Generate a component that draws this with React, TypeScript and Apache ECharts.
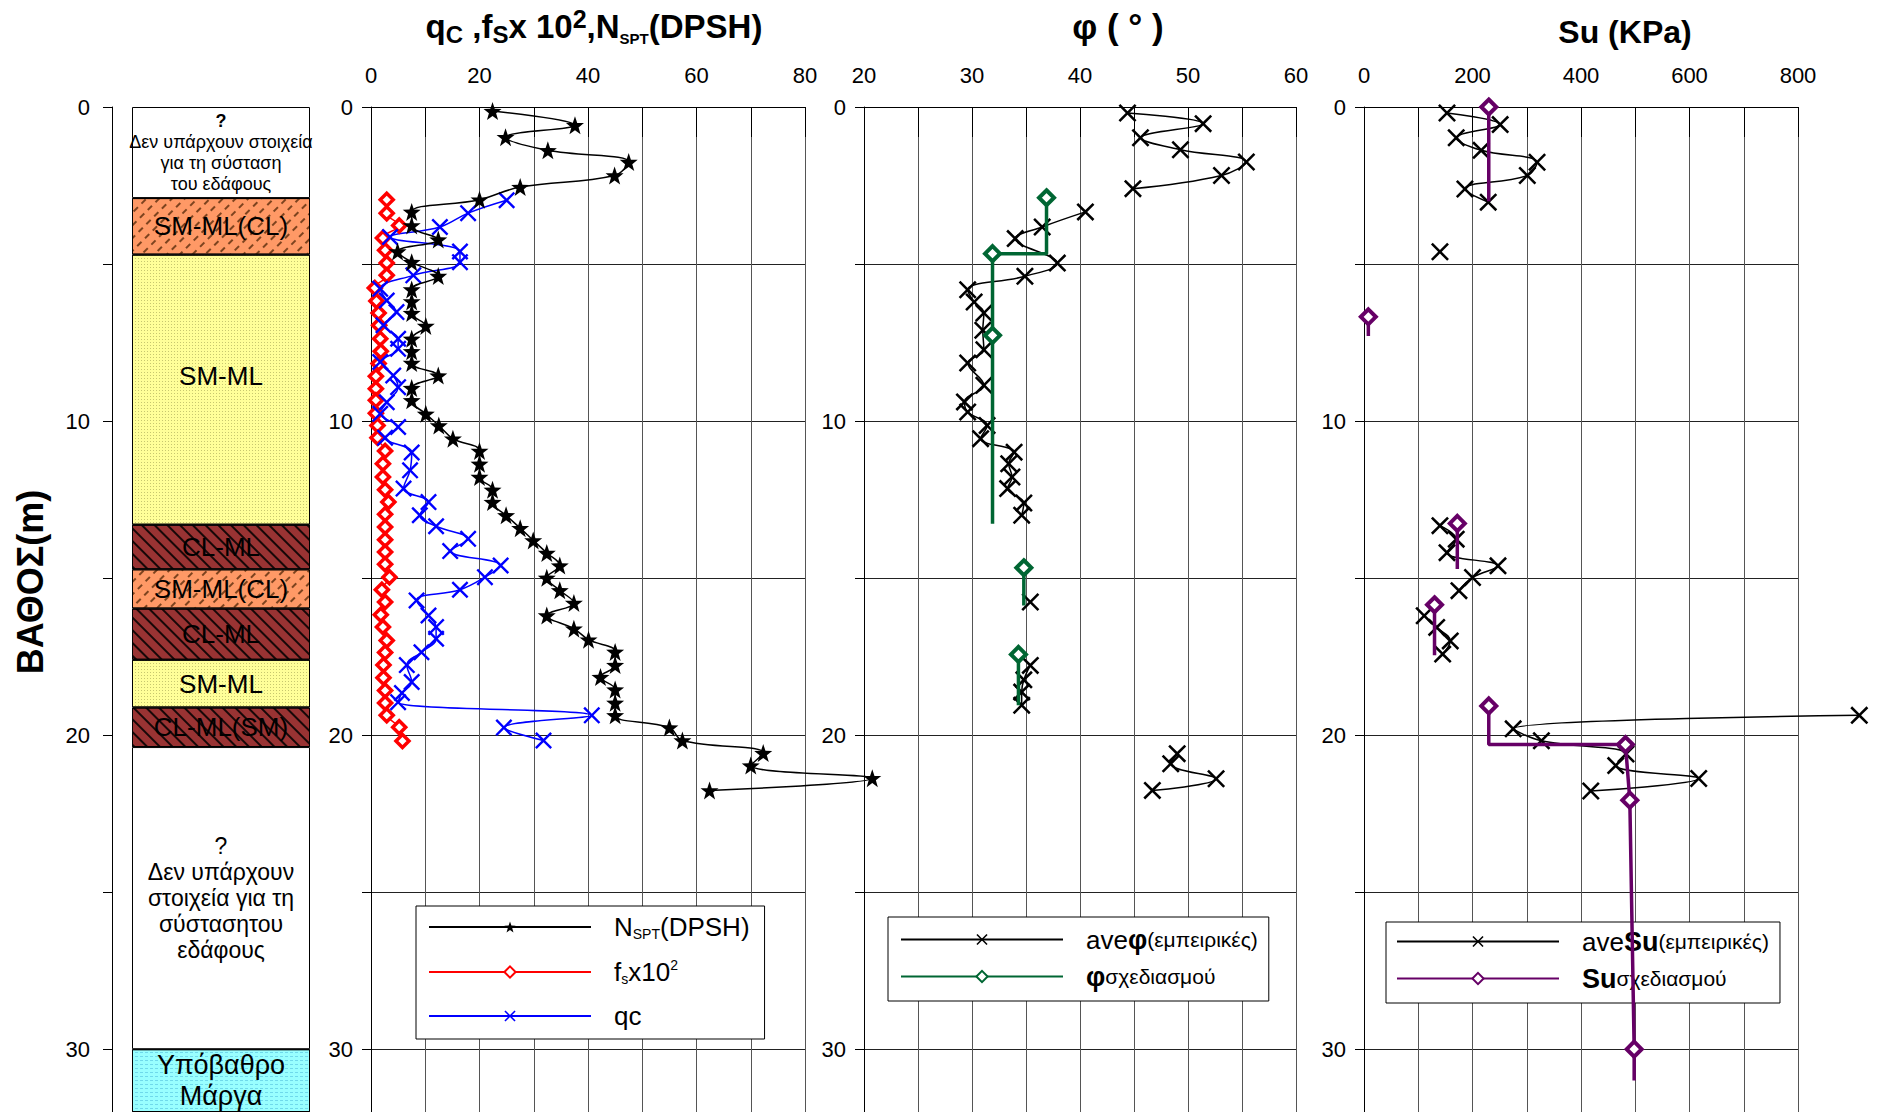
import React, { useEffect, useRef } from "react";
import * as echarts from "echarts";

// ------------------------------- data -------------------------------
const soilLabels = [
  "?\nΔεν υπάρχουν στοιχεία\nγια τη σύσταση\nτου εδάφους",
  "SM-ML(CL)",
  "SM-ML",
  "CL-ML",
  "SM-ML(CL)",
  "CL-ML",
  "SM-ML",
  "CL-ML(SM)",
  "?\nΔεν υπάρχουν\nστοιχεία για τη\nσύστασητου\nεδάφους",
  "Υπόβαθρο\nΜάργα",
];
const soilTops = [0, 2.9, 4.7, 13.3, 14.72, 15.97, 17.6, 19.12, 20.38, 30.0];
const soilBottoms = [2.9, 4.7, 13.3, 14.72, 15.97, 17.6, 19.12, 20.38, 30.0, 32.0];
const soilKinds = ["unknownTop", "smmlcl", "smml", "clml", "smmlcl", "clml", "smml", "clml", "unknown", "marl"];

const nsptDepth = [0.13, 0.58, 0.96, 1.38, 1.75, 2.18, 2.55, 2.95, 3.34, 3.77, 4.22, 4.6, 4.94, 5.38, 5.81, 6.19, 6.56, 6.97, 7.38, 7.78, 8.15, 8.55, 8.95, 9.34, 9.77, 10.14, 10.56, 10.95, 11.36, 11.78, 12.19, 12.58, 13.0, 13.41, 13.8, 14.2, 14.6, 14.99, 15.39, 15.79, 16.19, 16.61, 16.96, 17.35, 17.77, 18.15, 18.55, 18.97, 19.37, 19.76, 20.17, 20.57, 20.97, 21.37, 21.76];
const nsptValue = [22.4, 37.6, 24.8, 32.6, 47.5, 44.9, 27.5, 20.0, 7.5, 7.5, 12.4, 4.9, 7.5, 12.4, 7.5, 7.5, 7.5, 10.1, 7.5, 7.5, 7.5, 12.4, 7.5, 7.5, 10.1, 12.5, 15.1, 20.0, 20.0, 20.0, 22.4, 22.4, 24.9, 27.5, 29.9, 32.4, 34.8, 32.4, 34.8, 37.4, 32.4, 37.4, 40.1, 45.0, 45.0, 42.3, 45.0, 45.0, 45.0, 55.0, 57.4, 72.3, 70.0, 92.4, 62.4];

const fsDepth = [2.95, 3.38, 3.77, 4.17, 4.56, 4.97, 5.36, 5.76, 6.18, 6.56, 6.95, 7.38, 7.78, 8.17, 8.57, 8.97, 9.34, 9.75, 10.14, 10.53, 10.95, 11.36, 11.78, 12.19, 12.58, 12.97, 13.37, 13.78, 14.17, 14.56, 14.97, 15.37, 15.76, 16.17, 16.56, 16.99, 17.37, 17.77, 18.17, 18.58, 18.98, 19.37, 19.75, 20.19];
const fsValue = [2.9, 2.9, 5.2, 2.2, 2.6, 2.9, 2.9, 0.7, 1.0, 1.4, 1.5, 1.7, 1.8, 1.4, 0.9, 0.9, 0.9, 0.9, 1.2, 1.2, 2.6, 2.2, 2.2, 2.6, 3.2, 2.6, 2.6, 2.6, 2.6, 2.6, 3.4, 2.0, 2.6, 1.8, 2.2, 2.9, 2.6, 2.3, 2.3, 2.6, 2.6, 2.9, 5.2, 5.8];

const qcDepth = [2.97, 3.38, 3.82, 4.14, 4.6, 4.94, 5.36, 5.79, 6.16, 6.53, 6.95, 7.38, 7.7, 8.12, 8.55, 8.92, 9.4, 9.77, 10.19, 10.53, 11.0, 11.57, 12.15, 12.58, 13.0, 13.35, 13.75, 14.14, 14.6, 14.97, 15.37, 15.71, 16.19, 16.56, 16.93, 17.36, 17.77, 18.31, 18.66, 18.95, 19.37, 19.76, 20.17];
const qcValue = [25.0, 17.9, 12.7, 3.5, 16.4, 16.4, 7.8, 1.7, 2.9, 4.7, 2.3, 5.0, 5.0, 1.7, 4.1, 5.0, 2.9, 1.7, 5.0, 2.6, 7.5, 7.2, 6.0, 10.6, 9.0, 12.0, 17.9, 14.6, 23.9, 21.0, 16.4, 8.4, 10.6, 12.0, 12.0, 9.3, 6.6, 7.5, 5.7, 5.0, 40.7, 24.5, 31.8];

const phiAveDepth = [0.19, 0.53, 0.98, 1.36, 1.75, 2.18, 2.6, null, 3.34, 3.82, 4.19, 4.97, 5.39, 5.82, 6.21, 6.56, 7.11, 7.73, 8.15, 8.86, 9.39, 9.71, 10.14, 10.56, 10.99, 11.36, 11.78, 12.15, 12.61, 13.0, null, 15.76, null, 17.78, 18.24, 18.63, 19.05, null, 20.59, 20.91, 21.39, 21.76];
const phiAveValue = [44.4, 51.4, 45.6, 49.3, 55.4, 53.1, 44.9, null, 40.5, 36.5, 34.0, 37.9, 34.9, 29.6, 30.2, 31.1, 31.0, 31.1, 29.6, 31.1, 29.3, 29.6, 31.4, 30.8, 33.9, 33.4, 33.7, 33.3, 34.8, 34.6, null, 35.4, null, 35.4, 34.8, 34.6, 34.6, null, 49.0, 48.4, 52.6, 46.7];

const phiDesignDepth = [2.89, 4.67, 4.67, 7.27, 13.27, null, 14.67, 15.87, null, 17.43, 19.05];
const phiDesignValue = [36.9, 36.9, 31.9, 31.9, 31.9, null, 34.8, 34.8, null, 34.3, 34.3];
const phiDesignMarker = [1, 0, 1, 1, 0, 0, 1, 0, 0, 1, 0];

const suAveDepth = [0.19, 0.56, 0.98, 1.38, 1.76, 2.18, 2.61, 3.03, null, 4.61, null, 13.33, 13.76, 14.19, 14.61, 14.98, 15.4, null, 16.2, 16.57, 17.0, 17.42, null, 19.37, 19.8, 20.18, 20.6, 20.97, 21.38, 21.78];
const suAveValue = [153, 251, 170, 216, 319, 301, 186, 229, null, 140, null, 140, 170, 153, 247, 200, 175, null, 111, 134, 159, 145, null, 913, 275, 327, 483, 464, 617, 418];

const suDesignDepth = [0, 3.0, null, 6.68, 7.29, null, 13.26, 14.71, null, 15.85, 17.46, null, 19.07, 20.3, 20.3, 22.07, 30.0, 31.0];
const suDesignValue = [230, 230, null, 8, 8, null, 172, 172, null, 130, 130, null, 230, 230, 482, 490, 498, 498];
const suDesignMarker = [1, 0, 0, 1, 0, 0, 1, 0, 0, 1, 0, 0, 1, 0, 1, 1, 1, 0];

// ------------------------------- style -------------------------------
const NARROW = "'Liberation Sans Narrow', 'Arial Narrow', 'Liberation Sans', Arial, sans-serif";
const REG = "'Liberation Sans', Arial, sans-serif";
const STAR = "path://M10,0L12.35,6.76L19.51,6.91L13.8,11.24L15.88,18.09L10,14L4.12,18.09L6.2,11.24L0.49,6.91L7.65,6.76Z";
const CROSS = "path://M0,1L1,0L5,4L9,0L10,1L6,5L10,9L9,10L5,6L1,10L0,9L4,5Z";

const soilStyle: Record<string, any> = {
  unknownTop: { color: "#ffffff" },
  unknown: { color: "#ffffff" },
  smmlcl: {
    color: "#ff9966",
    decal: { symbol: "rect", symbolSize: 1, color: "rgba(70,30,0,0.7)", dashArrayX: [6, 5], dashArrayY: [1.2, 7], rotation: -Math.PI / 4 },
  },
  smml: {
    color: "#ffff99",
    decal: { symbol: "rect", symbolSize: 1, color: "rgba(130,130,60,0.45)", dashArrayX: [1, 2], dashArrayY: [1, 2], rotation: 0 },
  },
  clml: {
    color: "#993333",
    decal: { symbol: "rect", symbolSize: 1, color: "rgba(0,0,0,0.85)", dashArrayX: [1, 0], dashArrayY: [1.3, 7], rotation: Math.PI / 4 },
  },
  marl: {
    color: "#99ffff",
    decal: { symbol: "rect", symbolSize: 1, color: "rgba(60,170,210,0.45)", dashArrayX: [3, 2], dashArrayY: [1, 3], rotation: 0 },
  },
};

function toPairs(values: (number | null)[], depths: (number | null)[], markers?: number[]) {
  return values.map((v, i) => {
    const d = depths[i];
    if (v === null || d === null) return ["-", "-"];
    if (markers && !markers[i]) return { value: [v, d], symbol: "none" };
    return [v, d];
  });
}

function soilLabel(text: string, kind: string) {
  const lines = text.split("\n");
  if (kind === "unknownTop" || kind === "unknown") {
    const tok = kind === "unknownTop" ? "t" : "u";
    return lines.map((l, i) => (i === 0 ? `{${kind === "unknownTop" ? "q" : "q2"}|${l}}` : `{${tok}|${l}}`)).join("\n");
  }
  if (kind === "marl") return lines.map((l) => `{m|${l}}`).join("\n");
  return `{c|${text}}`;
}

const GRID_TOP = 107;
const GRID_H = 1005;

function xTop(gridIndex: number, min: number, max: number, interval: number, labelStep: number) {
  return {
    type: "value",
    gridIndex,
    position: "top",
    min,
    max,
    interval,
    axisLine: { show: true, lineStyle: { color: "#000", width: 1 } },
    axisTick: { show: true, inside: true, length: 30, lineStyle: { color: "#000", width: 1 } },
    axisLabel: {
      margin: 21,
      fontSize: 22,
      fontFamily: NARROW,
      color: "#000",
      formatter: (v: number) => (Math.round(v) % labelStep === 0 ? String(v) : ""),
    },
    splitLine: { show: true, lineStyle: { color: "#555", width: 1 } },
  };
}

function yDepth(gridIndex: number, extra: any = {}) {
  return {
    type: "value",
    gridIndex,
    inverse: true,
    min: 0,
    max: 32,
    interval: 5,
    axisLine: { show: true, lineStyle: { color: "#000", width: 1 } },
    axisTick: { show: true, inside: false, length: 9, lineStyle: { color: "#000", width: 1 } },
    axisLabel: {
      margin: 18,
      fontSize: 22,
      fontFamily: NARROW,
      color: "#000",
      showMaxLabel: false,
      formatter: (v: number) => (Math.round(v) % 10 === 0 ? String(v) : ""),
    },
    splitLine: { show: true, lineStyle: { color: "#222", width: 1 } },
    ...extra,
  };
}

// hidden, wider coordinate systems (same px-per-unit scale) so the out-of-range points stay visible
function hiddenX(gridIndex: number, max: number) {
  return { type: "value", gridIndex, min: 0, max, show: false, splitLine: { show: false } };
}
function hiddenY(gridIndex: number) {
  return { type: "value", gridIndex, inverse: true, min: 0, max: 32, show: false, splitLine: { show: false } };
}

const legendText: Record<string, string> = {
  NSPT: "{g| }{n|N}{sub|SPT}{n|(DPSH)}",
  fs: "{g| }{n|f}{sub|s}{n|x10}{sup|2}",
  qc: "{g| }{n|qc}",
  avePhi: "{g| }{n|ave}{b|φ}{s|(εμπειρικές)}",
  phiDesign: "{g| }{b|φ}{s|σχεδιασμού}",
  aveSu: "{g| }{n|ave}{b|Su}{s|(εμπειρικές)}",
  suDesign: "{g| }{b|Su}{s|σχεδιασμού}",
};

const legendRich = {
  g: { width: 18, fontSize: 22, lineHeight: 26 },
  n: { fontSize: 26, fontFamily: NARROW, lineHeight: 28, color: "#000" },
  sub: { fontSize: 14, fontFamily: NARROW, lineHeight: 17, verticalAlign: "bottom", color: "#000" },
  sup: { fontSize: 14, fontFamily: NARROW, lineHeight: 22, verticalAlign: "top", color: "#000" },
  b: { fontSize: 27, fontWeight: "bold", fontFamily: NARROW, lineHeight: 28, color: "#000" },
  s: { fontSize: 21, fontFamily: NARROW, lineHeight: 28, color: "#000" },
};

function legendBox(names: string[], left: number, top: number, itemGap: number, padding: number[]) {
  return {
    data: names,
    orient: "vertical",
    left,
    top,
    itemWidth: 162,
    itemHeight: 14,
    itemGap,
    padding,
    backgroundColor: "#fff",
    borderColor: "#000",
    borderWidth: 1,
    selectedMode: false,
    formatter: (name: string) => legendText[name] || name,
    textStyle: { color: "#000", fontFamily: NARROW, fontSize: 22, rich: legendRich },
  };
}

function buildOption() {
  const soilSeries = soilLabels.map((lab, i) => {
    const kind = soilKinds[i];
    const st = soilStyle[kind];
    const thick = soilBottoms[i] - soilTops[i];
    return {
      type: "bar",
      name: "soil" + i,
      xAxisIndex: 0,
      yAxisIndex: 0,
      stack: "soil",
      barWidth: "100%",
      silent: true,
      data: [thick],
      itemStyle: { color: st.color, borderColor: "#000", borderWidth: 1, decal: st.decal },
      label: {
        show: true,
        position: "inside",
        offset: thick > 6 && kind === "smml" ? [0, -14] : [0, 0],
        formatter: soilLabel(lab, kind),
        rich: {
          q: { fontSize: 18, fontWeight: "bold", fontFamily: REG, color: "#000", lineHeight: 21 },
          t: { fontSize: 18, fontFamily: REG, color: "#000", lineHeight: 21 },
          q2: { fontSize: 23, fontFamily: REG, color: "#000", lineHeight: 26 },
          u: { fontSize: 23, fontFamily: REG, color: "#000", lineHeight: 26 },
          m: { fontSize: 27, fontFamily: REG, color: "#000", lineHeight: 31 },
          c: { fontSize: 26, fontFamily: REG, color: "#000", lineHeight: 30 },
        },
      },
    };
  });

  const lineBase = { type: "line", animation: false, connectNulls: false };

  return {
    animation: false,
    backgroundColor: "#fff",
    grid: [
      { left: 132, top: GRID_TOP, width: 178, height: GRID_H },
      { left: 371, top: GRID_TOP, width: 434, height: GRID_H },
      { left: 864, top: GRID_TOP, width: 432, height: GRID_H },
      { left: 1364, top: GRID_TOP, width: 434, height: GRID_H },
      { left: 371, top: GRID_TOP, width: 542.5, height: GRID_H },
      { left: 1364, top: GRID_TOP, width: 515.375, height: GRID_H },
    ],
    xAxis: [
      { type: "category", gridIndex: 0, data: ["soil"], show: false },
      xTop(1, 0, 80, 10, 20),
      xTop(2, 20, 60, 5, 10),
      xTop(3, 0, 800, 100, 200),
      hiddenX(4, 100),
      hiddenX(5, 950),
    ],
    yAxis: [
      yDepth(0, { offset: 20, splitLine: { show: false }, axisLabel: { margin: 22, fontSize: 22, fontFamily: NARROW, color: "#000", showMaxLabel: false, formatter: (v: number) => (Math.round(v) % 10 === 0 ? String(v) : "") } }),
      yDepth(1),
      yDepth(2),
      yDepth(3),
      hiddenY(4),
      hiddenY(5),
    ],
    legend: [
      legendBox(["NSPT", "fs", "qc"], 416, 906, 17, [8, 15, 10, 12]),
      legendBox(["avePhi", "phiDesign"], 888, 917, 10, [9, 11, 11, 12]),
      legendBox(["aveSu", "suDesign"], 1386, 922, 10, [6, 11, 11, 10]),
    ],
    graphic: [
      {
        type: "text",
        x: 594,
        y: 26,
        style: {
          text: "{m|q}{s|C}{m| ,f}{s|S}{m|x 10}{p|2}{m|,N}{ss|SPT}{m|(DPSH)}",
          align: "center",
          verticalAlign: "middle",
          fill: "#000",
          rich: {
            m: { fontSize: 33, fontWeight: "bold", fontFamily: NARROW, lineHeight: 40, fill: "#000" },
            s: { fontSize: 24, fontWeight: "bold", fontFamily: NARROW, lineHeight: 24, verticalAlign: "bottom", fill: "#000" },
            p: { fontSize: 25, fontWeight: "bold", fontFamily: NARROW, lineHeight: 24, verticalAlign: "top", fill: "#000" },
            ss: { fontSize: 15, fontWeight: "bold", fontFamily: NARROW, lineHeight: 16, verticalAlign: "bottom", fill: "#000" },
          },
        },
      },
      {
        type: "text",
        x: 1118,
        y: 26,
        style: { text: "φ ( ° )", fontSize: 35, fontWeight: "bold", fontFamily: NARROW, fill: "#000", align: "center", verticalAlign: "middle" },
      },
      {
        type: "text",
        x: 1625,
        y: 32,
        style: { text: "Su (KPa)", fontSize: 32, fontWeight: "bold", fontFamily: NARROW, fill: "#000", align: "center", verticalAlign: "middle" },
      },
      {
        type: "text",
        x: 30,
        y: 582,
        rotation: Math.PI / 2,
        style: { text: "ΒΑΘΟΣ(m)", fontSize: 36, fontWeight: "bold", fontFamily: REG, fill: "#000", align: "center", verticalAlign: "middle" },
      },
    ],
    series: [
      ...soilSeries,
      {
        ...lineBase,
        name: "NSPT",
        xAxisIndex: 4,
        yAxisIndex: 4,
        data: toPairs(nsptValue, nsptDepth),
        smooth: 0.4,
        clip: false,
        symbol: STAR,
        symbolSize: 18,
        itemStyle: { color: "#000" },
        lineStyle: { color: "#000", width: 1.5 },
        z: 4,
      },
      {
        ...lineBase,
        name: "fs",
        xAxisIndex: 1,
        yAxisIndex: 1,
        data: toPairs(fsValue, fsDepth),
        smooth: 0.4,
        symbol: "diamond",
        symbolSize: 13,
        itemStyle: { color: "#fff", borderColor: "#ff0000", borderWidth: 3.5 },
        lineStyle: { color: "#ff0000", width: 1.5 },
        z: 3,
      },
      {
        ...lineBase,
        name: "qc",
        xAxisIndex: 1,
        yAxisIndex: 1,
        data: toPairs(qcValue, qcDepth),
        smooth: 0.4,
        symbol: CROSS,
        symbolSize: 17,
        itemStyle: { color: "#0000ff" },
        lineStyle: { color: "#0000ff", width: 1.5 },
        z: 3,
      },
      {
        ...lineBase,
        name: "avePhi",
        xAxisIndex: 2,
        yAxisIndex: 2,
        data: toPairs(phiAveValue, phiAveDepth),
        smooth: 0.4,
        symbol: CROSS,
        symbolSize: 18,
        itemStyle: { color: "#000" },
        lineStyle: { color: "#000", width: 1.5 },
        z: 3,
      },
      {
        ...lineBase,
        name: "phiDesign",
        xAxisIndex: 2,
        yAxisIndex: 2,
        data: toPairs(phiDesignValue, phiDesignDepth, phiDesignMarker),
        smooth: false,
        symbol: "diamond",
        symbolSize: 15,
        itemStyle: { color: "#fff", borderColor: "#006633", borderWidth: 4 },
        lineStyle: { color: "#006633", width: 3.5 },
        z: 4,
      },
      {
        ...lineBase,
        name: "aveSu",
        xAxisIndex: 5,
        yAxisIndex: 5,
        data: toPairs(suAveValue, suAveDepth),
        smooth: 0.4,
        clip: false,
        symbol: CROSS,
        symbolSize: 18,
        itemStyle: { color: "#000" },
        lineStyle: { color: "#000", width: 1.5 },
        z: 3,
      },
      {
        ...lineBase,
        name: "suDesign",
        xAxisIndex: 3,
        yAxisIndex: 3,
        data: toPairs(suDesignValue, suDesignDepth, suDesignMarker),
        smooth: false,
        symbol: "diamond",
        symbolSize: 15,
        itemStyle: { color: "#fff", borderColor: "#660066", borderWidth: 4 },
        lineStyle: { color: "#660066", width: 3.5 },
        z: 4,
      },
    ],
  };
}

export default function App() {
  const ref = useRef<HTMLDivElement>(null);
  useEffect(() => {
    if (!ref.current) return;
    const chart = echarts.init(ref.current, null, { renderer: "svg" });
    chart.setOption(buildOption() as any);
    return () => chart.dispose();
  }, []);
  return (
    <div
      ref={ref}
      style={{ position: "fixed", left: 0, top: 0, width: 1881, height: 1112, background: "#fff" }}
    />
  );
}
